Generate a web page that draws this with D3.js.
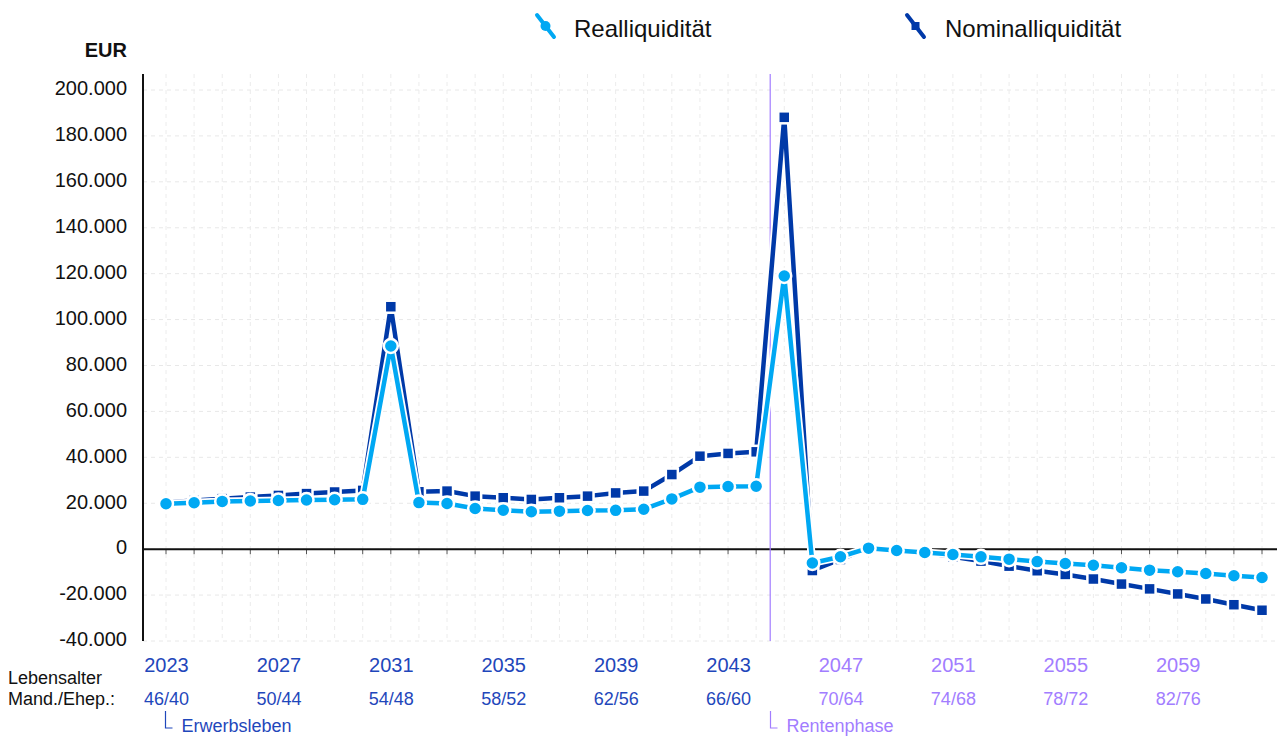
<!DOCTYPE html>
<html>
<head>
<meta charset="utf-8">
<script src="https://cdn.jsdelivr.net/npm/d3@7"></script>
<style>
  body { margin: 0; background: #fff; }
  svg { font-family: "Liberation Sans", Arial, sans-serif; }
</style>
</head>
<body>
<svg id="chart" width="1277" height="737"></svg>
<script>
// years 2023..2062
const years = d3.range(2023, 2063);

// Realliquidität (EUR)
const realValues = [
  19800, 20200, 20800, 21000, 21200, 21400, 21500, 21700,
  88500,
  20300, 19900, 17700, 17000, 16300, 16550, 16850, 16900, 17400, 21900, 27000, 27300, 27400,
  119000,
  -6000, -3300, 450, -600, -1450, -2300, -3350, -4350, -5400, -6250, -7000, -8100, -9150, -9850, -10600, -11600, -12350
];

// Nominalliquidität (EUR)
const nominalValues = [
  20300, 21200, 22000, 22700, 23400, 24200, 24900, 25600,
  105600,
  25000, 25300, 23100, 22400, 21650, 22400, 23100, 24500, 25300, 32500, 40500, 41700, 42400,
  188100,
  -9300, -4500, 500, -600, -1600, -3300, -5200, -7400, -9400, -11000, -13000, -15200, -17300, -19500, -21700, -24200, -26600
];

const yearTicks = [2023, 2027, 2031, 2035, 2039, 2043, 2047, 2051, 2055, 2059];
const ageLabels = ["46/40", "50/44", "54/48", "58/52", "62/56", "66/60", "70/64", "74/68", "78/72", "82/76"];
const yTicks = [-40000, -20000, 0, 20000, 40000, 60000, 80000, 100000, 120000, 140000, 160000, 180000, 200000];
const retirementYear = 2044.5;

const realColor = "#00a8f3";
const nomColor = "#0039a8";
const workColor = "#1f47bb";
const retireColor = "#a27dff";

const svg = d3.select("#chart");
const plotLeft = 143, plotRight = 1277, plotTop = 74, plotBottom = 641;

const x = d3.scaleLinear().domain([2023, 2062]).range([166, 1262]);
const y = d3.scaleLinear().domain([-40000, 200000]).range([641, 90]);

const de = d3.formatLocale({ decimal: ",", thousands: ".", grouping: [3], currency: ["", " €"], minus: "-" });
const fmt = de.format(",.0f");

// grid
svg.append("g").selectAll("line")
  .data(yTicks)
  .enter().append("line")
  .attr("x1", plotLeft).attr("x2", plotRight)
  .attr("y1", d => y(d)).attr("y2", d => y(d))
  .attr("stroke", "#e8e8e8").attr("stroke-dasharray", "4,4");

svg.append("g").selectAll("line")
  .data(years)
  .enter().append("line")
  .attr("x1", d => x(d)).attr("x2", d => x(d))
  .attr("y1", plotTop).attr("y2", plotBottom)
  .attr("stroke", "#ececec").attr("stroke-dasharray", "4,4");

// y axis
const yAxis = d3.axisLeft(y).tickValues(yTicks).tickFormat(fmt).tickSize(0).tickPadding(16);
const yg = svg.append("g").attr("transform", "translate(" + plotLeft + ",0)").call(yAxis);
yg.select(".domain").remove();
yg.selectAll("text").attr("font-size", 20).attr("fill", "#111").attr("dy", "0.24em")
  .style("font-family", "'Liberation Sans', Arial, sans-serif");

svg.append("line")
  .attr("x1", plotLeft).attr("x2", plotLeft).attr("y1", plotTop).attr("y2", plotBottom)
  .attr("stroke", "#111").attr("stroke-width", 2);

svg.append("text")
  .attr("x", 127).attr("y", 57).attr("text-anchor", "end")
  .attr("font-size", 20).attr("font-weight", "bold").attr("fill", "#111")
  .text("EUR");

// zero line + small ticks
svg.append("g").selectAll("line")
  .data(years)
  .enter().append("line")
  .attr("x1", d => x(d)).attr("x2", d => x(d))
  .attr("y1", y(0)).attr("y2", y(0) + 5)
  .attr("stroke", "#555").attr("stroke-width", 1);

svg.append("line")
  .attr("x1", plotLeft).attr("x2", plotRight).attr("y1", y(0)).attr("y2", y(0))
  .attr("stroke", "#111").attr("stroke-width", 2);

// retirement line
svg.append("line")
  .attr("x1", x(retirementYear)).attr("x2", x(retirementYear))
  .attr("y1", plotTop).attr("y2", plotBottom)
  .attr("stroke", retireColor).attr("stroke-width", 1.2);

// series
const line = d3.line().x((d, i) => x(years[i])).y(d => y(d));

function drawSeries(values, color, shape) {
  const g = svg.append("g");
  g.append("path").datum(values)
    .attr("d", line).attr("fill", "none")
    .attr("stroke", "#fff").attr("stroke-width", 8).attr("stroke-linejoin", "round");
  g.append("path").datum(values)
    .attr("d", line).attr("fill", "none")
    .attr("stroke", color).attr("stroke-width", 4.5).attr("stroke-linejoin", "round");
  if (shape === "circle") {
    g.selectAll("circle").data(values).enter().append("circle")
      .attr("cx", (d, i) => x(years[i])).attr("cy", d => y(d))
      .attr("r", 7).attr("fill", color)
      .attr("stroke", "#fff").attr("stroke-width", 2.5);
  } else {
    g.selectAll("rect").data(values).enter().append("rect")
      .attr("x", (d, i) => x(years[i]) - 6).attr("y", d => y(d) - 6)
      .attr("width", 12).attr("height", 12).attr("fill", color)
      .attr("stroke", "#fff").attr("stroke-width", 2.5);
  }
}
drawSeries(nominalValues, nomColor, "rect");
drawSeries(realValues, realColor, "circle");

// x axis: years + ages
const colorFor = d => d > retirementYear ? retireColor : workColor;

const xg = svg.append("g").attr("transform", "translate(0,648)")
  .call(d3.axisBottom(x).tickValues(yearTicks).tickFormat(d3.format("d")).tickSize(0).tickPadding(10));
xg.select(".domain").remove();
xg.selectAll("text").attr("font-size", 20).attr("fill", d => colorFor(d))
  .style("font-family", "'Liberation Sans', Arial, sans-serif");

const ag = svg.append("g").attr("transform", "translate(0,683)")
  .call(d3.axisBottom(x).tickValues(yearTicks).tickFormat((d, i) => ageLabels[i]).tickSize(0).tickPadding(9));
ag.select(".domain").remove();
ag.selectAll("text").attr("font-size", 18).attr("fill", d => colorFor(d))
  .style("font-family", "'Liberation Sans', Arial, sans-serif");

svg.append("text").attr("x", 8).attr("y", 684).attr("font-size", 18).attr("fill", "#111").text("Lebensalter");
svg.append("text").attr("x", 8).attr("y", 705).attr("font-size", 18).attr("fill", "#111").text("Mand./Ehep.:");

// phase markers
function phase(xp, label, color) {
  svg.append("path")
    .attr("d", "M" + xp + ",711V728H" + (xp + 7))
    .attr("fill", "none").attr("stroke", color).attr("stroke-width", 1.2);
  svg.append("text").attr("x", xp + 16).attr("y", 732)
    .attr("font-size", 18).attr("fill", color).text(label);
}
phase(Math.round(x(2023)) - 0.5, "Erwerbsleben", workColor);
phase(Math.round(x(retirementYear)) + 0.5, "Rentenphase", retireColor);

// legend
const legend = [
  { name: "Realliquidität", color: realColor, shape: "circle", lx: 537, tx: 574 },
  { name: "Nominalliquidität", color: nomColor, shape: "rect", lx: 907, tx: 945 }
];
const lg = svg.append("g").selectAll("g").data(legend).enter().append("g");
lg.append("line")
  .attr("x1", d => d.lx).attr("y1", 15).attr("x2", d => d.lx + 17).attr("y2", 37)
  .attr("stroke", d => d.color).attr("stroke-width", 4).attr("stroke-linecap", "round");
lg.filter(d => d.shape === "circle").append("circle")
  .attr("cx", d => d.lx + 8.5).attr("cy", 26).attr("r", 5).attr("fill", d => d.color);
lg.filter(d => d.shape === "rect").append("rect")
  .attr("x", d => d.lx + 4.5).attr("y", 22).attr("width", 8).attr("height", 8).attr("fill", d => d.color);
lg.append("text")
  .attr("x", d => d.tx).attr("y", 37)
  .attr("font-size", 24).attr("fill", "#111")
  .text(d => d.name);
</script>
</body>
</html>
